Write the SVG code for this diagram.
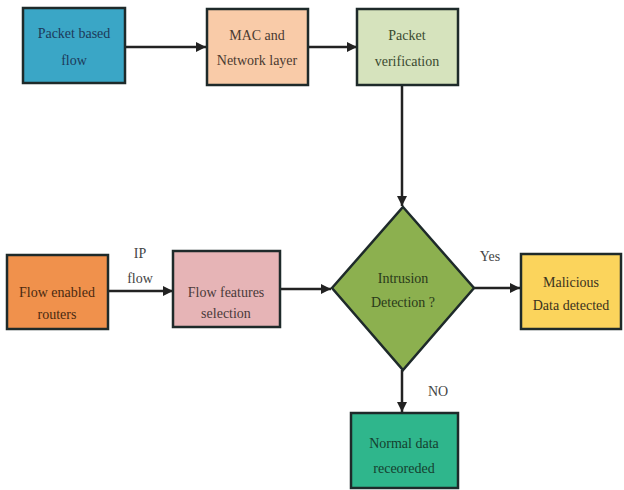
<svg xmlns="http://www.w3.org/2000/svg" width="624" height="490" viewBox="0 0 624 490">
<style>
.box{stroke:#1e2a2a;stroke-width:2.5}
text{font-family:'Liberation Serif','Times New Roman','DejaVu Serif',serif;font-size:14px;text-anchor:middle}
.t{fill:#333}
.lbl{fill:#444}
.c{stroke:#222;stroke-width:2.5;fill:none;marker-end:url(#ah)}
</style>
<defs>
<marker id="ah" viewBox="0 0 10 10" refX="10" refY="5" markerWidth="4" markerHeight="4" orient="auto" markerUnits="strokeWidth">
<path d="M0,0 L10,5 L0,10 z" fill="#222"/>
</marker>
</defs>
<rect width="624" height="490" fill="#fff"/>
<g id="connectors">
<line class="c" x1="126" y1="47" x2="206" y2="47"/>
<line class="c" x1="308" y1="47" x2="357" y2="47"/>
<line class="c" x1="402" y1="86" x2="402" y2="206"/>
<line class="c" x1="108" y1="291" x2="173" y2="291"/>
<line class="c" x1="280" y1="289" x2="331" y2="289"/>
<line class="c" x1="474" y1="288" x2="520" y2="288"/>
<line class="c" x1="402" y1="370" x2="402" y2="412"/>
<text class="lbl" x="140" y="258">IP</text>
<text class="lbl" x="140" y="283">flow</text>
<text class="lbl" x="490" y="261">Yes</text>
<text class="lbl" x="438" y="396">NO</text>
</g>
<g id="packet-based-flow">
<rect class="box" x="23" y="8" width="102" height="75" fill="#3aa6c6"/>
<text x="74" y="38" fill="#1d3a5a">Packet based</text>
<text x="74" y="65" fill="#1d3a5a">flow</text>
</g>
<g id="mac-network-layer">
<rect class="box" x="207" y="9" width="101" height="76" fill="#f9cba8"/>
<text x="257" y="40" fill="#4a3a30">MAC and</text>
<text x="257" y="65" fill="#4a3a30">Network layer</text>
</g>
<g id="packet-verification">
<rect class="box" x="357" y="9" width="101" height="76" fill="#d6e3bd"/>
<text x="407" y="40" fill="#3a4a30">Packet</text>
<text x="407" y="66" fill="#3a4a30">verification</text>
</g>
<g id="flow-enabled-routers">
<rect class="box" x="7" y="255" width="101" height="74" fill="#f0914c"/>
<text x="57" y="297" fill="#4a2a10">Flow enabled</text>
<text x="57" y="319" fill="#4a2a10">routers</text>
</g>
<g id="flow-features-selection">
<rect class="box" x="173" y="251" width="107" height="76" fill="#e6b4b6"/>
<text x="226" y="297" fill="#4a3a3a">Flow features</text>
<text x="226" y="318" fill="#4a3a3a">selection</text>
</g>
<g id="intrusion-detection">
<polygon class="box" points="403,207 474,288 403,370 332,288" fill="#8cb04f"/>
<text x="403" y="283" fill="#2a3a1a">Intrusion</text>
<text x="403" y="307" fill="#2a3a1a">Detection ?</text>
</g>
<g id="malicious-data-detected">
<rect class="box" x="521" y="254" width="100" height="75" fill="#fbd45c"/>
<text x="571" y="287" fill="#3a3220">Malicious</text>
<text x="571" y="310" fill="#3a3220">Data detected</text>
</g>
<g id="normal-data-recorded">
<rect class="box" x="351" y="413" width="107" height="75" fill="#2fb68c"/>
<text x="404" y="448" fill="#15402f">Normal data</text>
<text x="404" y="473" fill="#15402f">receoreded</text>
</g>
</svg>
